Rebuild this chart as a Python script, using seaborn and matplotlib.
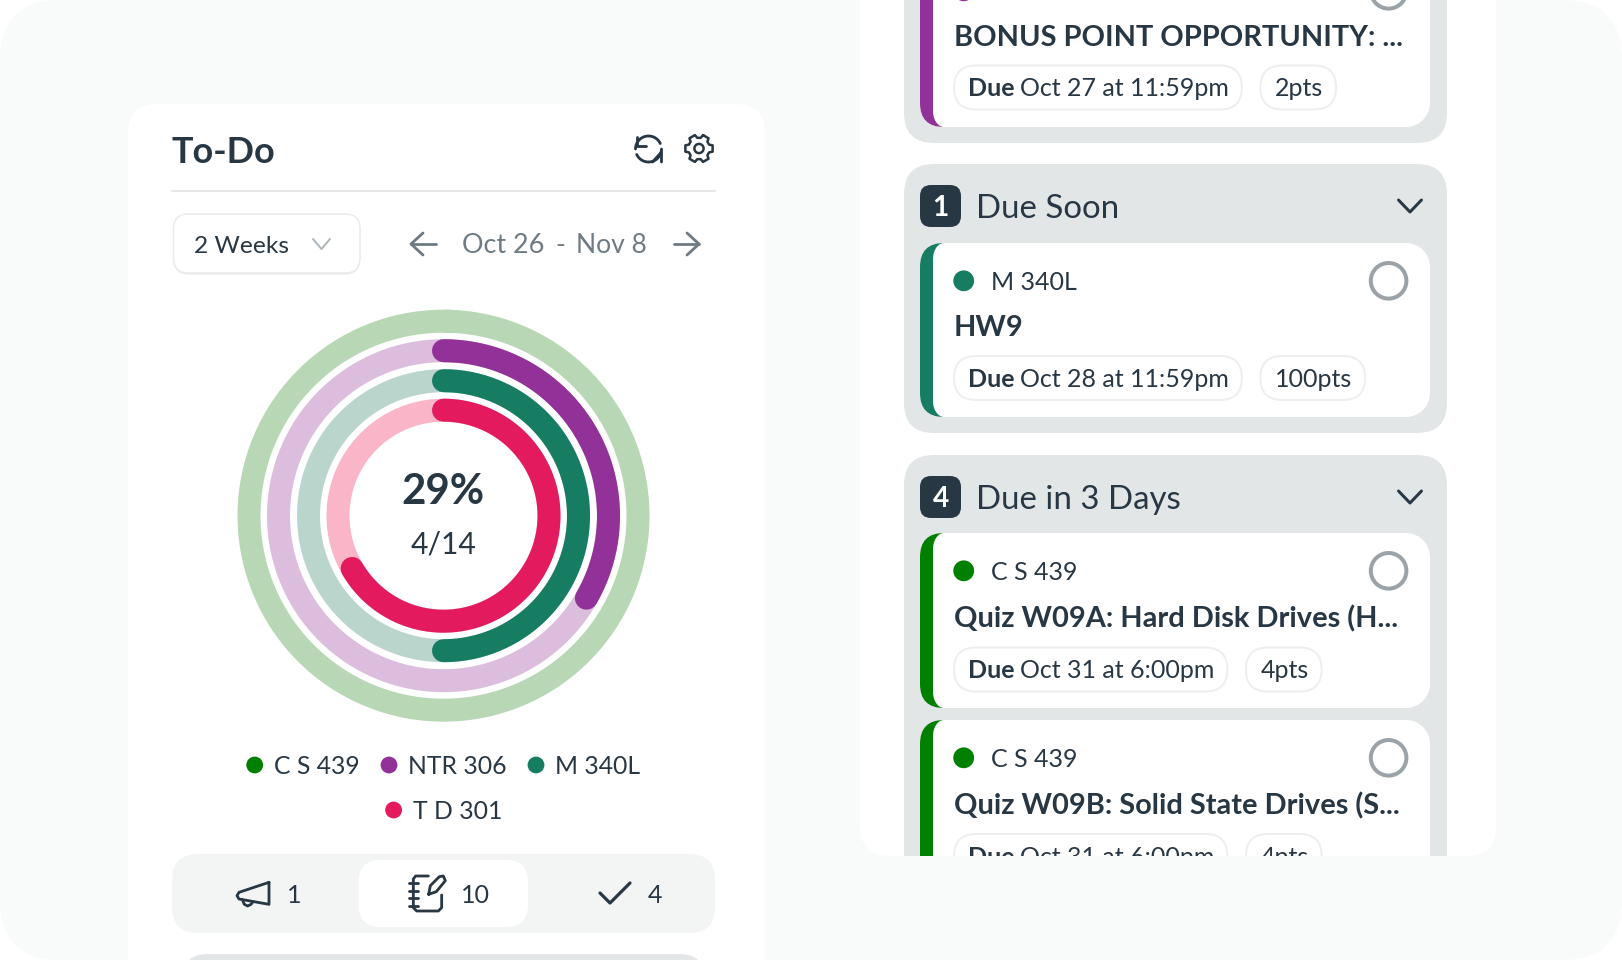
import numpy as np
import pandas as pd
import matplotlib
matplotlib.use('Agg')
import matplotlib.pyplot as plt
import seaborn as sns
from matplotlib.patches import Circle, FancyBboxPatch, PathPatch
from matplotlib.path import Path
from matplotlib.transforms import Bbox

# chart data
courses = ['C S 439', 'NTR 306', 'M 340L', 'T D 301']
completed = [0, 1, 1, 2]
assigned = [6, 3, 2, 3]
course_colors = ['#008000', '#923299', '#167d62', '#e31b5e']
track_colors = ['#b8d7b4', '#ddbddd', '#b9d5cc', '#fab6c8']

tab_counts = ['1', '10', '4']
group_counts = ['1', '4']
group_titles = ['Due Soon', 'Due in 3 Days']

task_courses = ['NTR 306', 'M 340L', 'C S 439', 'C S 439']
task_titles = ['BONUS POINT OPPORTUNITY: ...', 'HW9', 'Quiz W09A: Hard Disk Drives (H...', 'Quiz W09B: Solid State Drives (S...']
task_dues = ['Oct 27 at 11:59pm', 'Oct 28 at 11:59pm', 'Oct 31 at 6:00pm', 'Oct 31 at 6:00pm']
task_points = ['2pts', '100pts', '4pts', '4pts']

DARK = '#283744'
GREY = '#6f7b83'
GROUP = '#e3e6e7'
PILL = '#eceeef'

sns.set_theme(style='white')
plt.rcParams['font.family'] = ['Lato', 'DejaVu Sans']

W, H = 1622, 960
fig = plt.figure(figsize=(W / 100, H / 100), dpi=100, facecolor='white')
ax = fig.add_axes([0, 0, 1, 1])
ax.set_xlim(0, W)
ax.set_ylim(H, 0)
ax.axis('off')
renderer = fig.canvas.get_renderer()


def rrect(x0, y0, x1, y1, r, fc='white', ec='none', lw=0):
    patch = FancyBboxPatch((x0, y0), x1 - x0, y1 - y0, boxstyle=f'round,pad=0,rounding_size={r}',
                           fc=fc, ec=ec, lw=lw * 0.72)
    ax.add_patch(patch)
    return patch


def put(x, yc, s, size, weight='normal', color=DARK, ha='left'):
    # yc is the middle of the capitals, size is in pixels
    return ax.text(x, yc + 0.36 * size, s, fontsize=size * 0.72, fontweight=weight, color=color,
                   ha=ha, va='baseline')


def stroke(xs, ys, lw=2.8, color=DARK):
    ax.plot(xs, ys, color=color, lw=lw * 0.72, solid_capstyle='round', solid_joinstyle='round')


def text_end(t):
    return ax.transData.inverted().transform(t.get_window_extent(renderer).get_points())[1][0]


def card_body(x0, y0, x1, y1, rx=11, ry=16, r=24):
    # white part of a task card: tight left corners, rounder right corners
    k = 0.55
    verts = [(x0 + rx, y0), (x1 - r, y0), (x1 - r + k * r, y0), (x1, y0 + r - k * r), (x1, y0 + r),
             (x1, y1 - r), (x1, y1 - r + k * r), (x1 - r + k * r, y1), (x1 - r, y1),
             (x0 + rx, y1), (x0 + rx - k * rx, y1), (x0, y1 - ry + k * ry), (x0, y1 - ry),
             (x0, y0 + ry), (x0, y0 + ry - k * ry), (x0 + rx - k * rx, y0), (x0 + rx, y0)]
    codes = [Path.MOVETO, Path.LINETO, Path.CURVE4, Path.CURVE4, Path.CURVE4,
             Path.LINETO, Path.CURVE4, Path.CURVE4, Path.CURVE4,
             Path.LINETO, Path.CURVE4, Path.CURVE4, Path.CURVE4,
             Path.LINETO, Path.CURVE4, Path.CURVE4, Path.CURVE4]
    ax.add_patch(PathPatch(Path(verts, codes), fc='white', ec='none'))


# canvas and panels
rrect(0, 0, W, H, 60, fc='#f9fafa')
rrect(128, 104, 765, H + 60, 30)

# left panel header
put(172, 150, 'To-Do', 36, 'bold')
ax.plot([172, 715], [191, 191], color='#e5e7e8', lw=1.5)

t = np.linspace(np.radians(25), np.radians(180), 40)
stroke(648.5 + 13 * np.cos(t), 149 - 13 * np.sin(t))
stroke(648.5 + 13 * np.cos(t + np.pi), 149 - 13 * np.sin(t + np.pi))
stroke([636.5, 636.5, 645.5], [137, 146, 146])
stroke([661.5, 661.5, 652.5], [162, 152, 162])

angles, radii = [], []
for a in range(30, 390, 60):
    angles += [a - 13, a + 13, a + 21, a + 39]
    radii += [14, 14, 10.8, 10.8]
angles = np.radians(angles + angles[:1])
radii = np.array(radii + radii[:1])
stroke(699 + radii * np.sin(angles), 148.5 - radii * np.cos(angles), lw=2.5)
ax.add_patch(Circle((699, 148.5), 4.6, fc='none', ec=DARK, lw=1.8))

# range selector
rrect(174, 216, 360, 275, 15, fc='#f0f1f2')
rrect(173.5, 214, 360, 273, 15, ec='#e8eaeb', lw=1.5)
put(194.5, 244, '2 Weeks', 24.5)
stroke([313, 321.5, 330], [239, 249, 239], lw=2, color='#aeb6bb')
stroke([411, 436], [244, 244], color=GREY)
stroke([423, 411, 423], [233, 244, 255], color=GREY)
put(462.5, 243, 'Oct 26', 27, color=GREY)
put(560.5, 243, '-', 27, color=GREY, ha='center')
put(576.5, 243, 'Nov 8', 26.5, color=GREY)
stroke([674, 699], [244, 244], color=GREY)
stroke([687, 699, 687], [233, 244, 255], color=GREY)

# progress rings, one polar axes sized so that one radial unit is one pixel
cx, cy, rmax = 443.5, 515.7, 215
ring_radius = [194.5, 165, 135, 105.5]
ring_width = 23 * 0.72
polar = fig.add_axes([(cx - rmax) / W, 1 - (cy + rmax) / H, 2 * rmax / W, 2 * rmax / H], projection='polar')
polar.set_theta_zero_location('N')
polar.set_theta_direction(-1)
polar.patch.set_alpha(0)
for i, course in enumerate(courses):
    circle = np.linspace(0, 2.02 * np.pi, 365)
    sns.lineplot(x=circle, y=np.full(365, ring_radius[i]), ax=polar, color=track_colors[i],
                 linewidth=ring_width, estimator=None, sort=False, solid_capstyle='butt')
    if completed[i] > 0:
        arc = pd.DataFrame({'theta': np.linspace(0, 2 * np.pi * completed[i] / assigned[i], 200)})
        arc['r'] = ring_radius[i]
        sns.lineplot(data=arc, x='theta', y='r', ax=polar, color=course_colors[i], linewidth=ring_width,
                     estimator=None, sort=False, solid_capstyle='round')
polar.set_ylim(0, rmax)
polar.axis('off')

share = sum(completed) / sum(assigned)
put(443, 489, f'{share:.0%}', 42, 'bold', ha='center')
put(443.5, 543, f'{sum(completed)}/{sum(assigned)}', 30, ha='center')

# legend
legend_x = [254.7, 389, 536, 393.6]
legend_y = [765, 765, 765, 810]
for i, course in enumerate(courses):
    ax.add_patch(Circle((legend_x[i], legend_y[i]), 8.4, fc=course_colors[i], ec='none'))
    put(legend_x[i] + 19, legend_y[i] + 0.5, course, 24.8)

# tab bar
rrect(172, 854, 715, 933, 26, fc='#f3f4f4')
rrect(358.6, 860, 528, 927, 22)
put(294, 894, tab_counts[0], 25, ha='center')
put(475, 894, tab_counts[1], 25, ha='center')
put(654.5, 894, tab_counts[2], 25, ha='center')
rrect(182, 954, 705, 1020, 26, fc=GROUP)

# megaphone
stroke(225 + np.array([132, 132, 42, 36, 42, 132]) / 3, 865 + np.array([52, 118, 102, 92, 82, 52]) / 3)
stroke(225 + np.array([52, 58, 68, 78, 84]) / 3, 865 + np.array([104, 118, 123, 118, 110]) / 3)

# notebook
stroke(225 + np.array([610, 572, 565, 565, 575, 640, 650, 650]) / 3, 865 + np.array([33, 33, 42, 128, 138, 138, 128, 90]) / 3)
for y in [55, 78, 100, 122]:
    stroke(225 + np.array([551, 578]) / 3, 865 + np.array([y, y]) / 3)
stroke(225 + np.array([611, 616, 643, 655, 661, 634, 611]) / 3, 865 + np.array([88, 62, 35, 33, 47, 80, 88]) / 3)

# check mark
stroke([600, 610, 630], [893, 903, 883], lw=3.2)

# right panel
panel = rrect(860, -100, 1496, 856, 30)
before = set(ax.get_children())

group_boxes = [(-80, 143), (164, 433), (455, 900)]
for y0, y1 in group_boxes:
    rrect(904, y0, 1447, y1, 30, fc=GROUP)

header_y = [206, 497]
for i, y in enumerate(header_y):
    rrect(920, y - 21, 961, y + 21, 11, fc=DARK)
    put(940.5, y, group_counts[i], 28, 'bold', color='white', ha='center')
    put(975.5, y, group_titles[i], 33)
    stroke([1398.5, 1410, 1421.5], [y - 6, y + 6, y - 6], lw=3)

card_tops = [-47, 243, 533, 720]
card_bottoms = [127, 417, 708, 895]
text_shift = [-1, -0.5, 1, 0.5]
for i, top in enumerate(card_tops):
    color = course_colors[courses.index(task_courses[i])]
    rrect(920, top, 990, card_bottoms[i], 24, fc=color)
    card_body(933, top, 1430, card_bottoms[i])

    text_top = top + text_shift[i]
    ax.add_patch(Circle((963.7, top + 37.8), 10.4, fc=color, ec='none'))
    if top + 37 > 0:
        put(991, top + 38, task_courses[i], 25)
    ax.add_patch(Circle((1388.6, top + 37.8), 17.8, fc='white', ec='#9ba3a8', lw=4 * 0.72))
    put(953.5, text_top + 83.5, task_titles[i], 29, 'bold')

    pill_y = text_top + 135.5
    due = put(968.5, pill_y, 'Due', 25, 'bold')
    when = put(text_end(due) + 5.5, pill_y, task_dues[i], 25)
    pill_end = text_end(when) + 12.5
    rrect(954, pill_y - 22, pill_end, pill_y + 22, 22, ec=PILL, lw=2)
    points = put(pill_end + 33, pill_y, task_points[i], 25)
    rrect(pill_end + 18.5, pill_y - 22, text_end(points) + 13, pill_y + 22, 22, ec=PILL, lw=2)

# everything in the right column stops at the panel edge; text only honours a clip box
text_clip = Bbox([[860, H - 856], [1496, H]])
for artist in ax.get_children():
    if artist not in before:
        artist.set_clip_on(True)
        if artist in ax.texts:
            artist.set_clip_box(text_clip)
        else:
            artist.set_clip_path(panel)

fig.savefig('out.png', dpi=100)
